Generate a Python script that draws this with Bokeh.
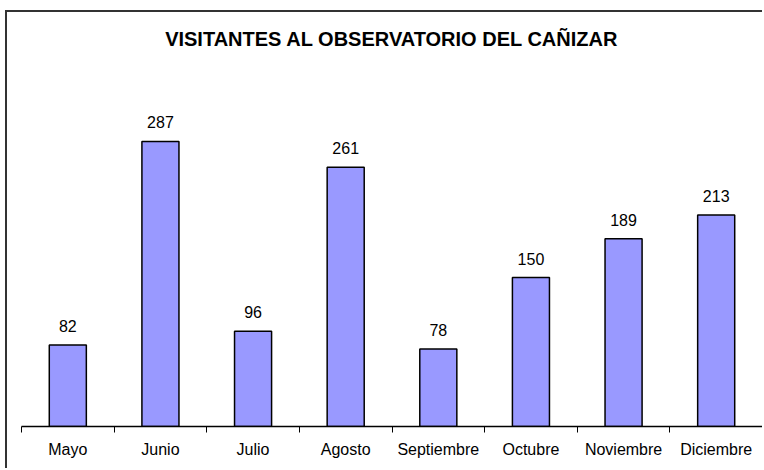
from bokeh.plotting import figure
from bokeh.models import ColumnDataSource, LabelSet, FixedTicker, Range1d
from bokeh.core.properties import value
from bokeh.embed import file_html
from bokeh.resources import INLINE

months = ["Mayo", "Junio", "Julio", "Agosto", "Septiembre", "Octubre", "Noviembre", "Diciembre"]
visitors = [82, 287, 96, 261, 78, 150, 189, 213]
title_text = "VISITANTES AL OBSERVATORIO DEL CAÑIZAR"

xs = [i + 0.5 for i in range(len(months))]
src = ColumnDataSource(dict(x=xs, top=visitors, lbl=[str(v) for v in visitors]))

p = figure(width=757, height=458, output_backend="svg", toolbar_location=None,
           x_range=Range1d(0, len(months)), y_range=Range1d(0, 366.5),
           min_border_left=14, min_border_right=2, min_border_top=0, min_border_bottom=44)
p.styles = {"margin-left": "5px", "margin-top": "10px",
            "border-left": "2px solid #333333", "border-top": "2px solid #333333"}

p.title.text = title_text
p.title.align = "center"
p.title.text_font = "Liberation Sans"
p.title.text_font_size = "20px"
p.title.text_font_style = "bold"
p.title.text_color = "#000000"
p.title.standoff = 26

p.vbar(x="x", top="top", bottom=0, width=0.4, source=src,
       fill_color="#9999FF", line_color="#000000", line_width=1.5)

labels = LabelSet(x="x", y="top", text="lbl", source=src, text_align="center",
                  text_baseline="middle", y_offset=19, text_font=value("Liberation Sans"),
                  text_font_size="16px", text_color="#000000")
p.add_layout(labels)

p.yaxis.visible = False
p.grid.visible = False
p.outline_line_color = None

ax = p.xaxis[0]
ax.ticker = FixedTicker(ticks=xs, minor_ticks=list(range(len(months) + 1)))
ax.major_label_overrides = {x: m for x, m in zip(xs, months)}
ax.major_tick_line_color = None
ax.minor_tick_line_color = "#000000"
ax.minor_tick_out = 6
ax.minor_tick_in = 0
ax.axis_line_color = "#000000"
ax.axis_line_width = 1.5
ax.major_label_text_font = "Liberation Sans"
ax.major_label_text_font_size = "16px"
ax.major_label_text_color = "#000000"
ax.major_label_standoff = 8

open("out.html", "w").write(file_html(p, INLINE))
